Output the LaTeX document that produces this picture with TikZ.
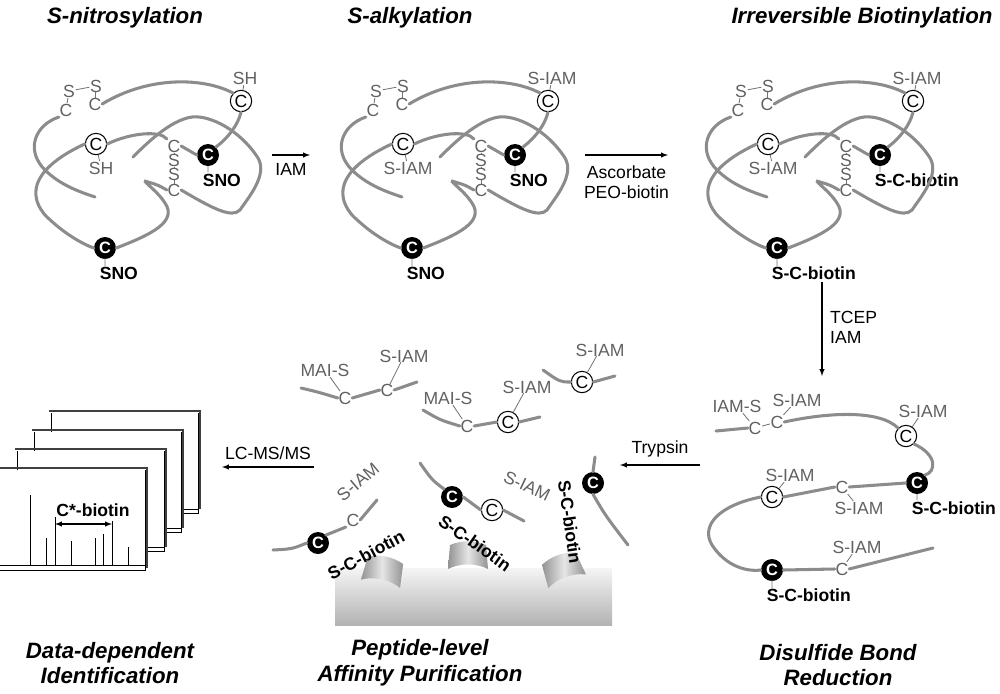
\documentclass[tikz,border=0pt]{standalone}
\usepackage{fontspec}
\setmainfont{Liberation Sans}
\usetikzlibrary{positioning,calc}

\tikzset{
  strand/.style={draw=black!45, line width=2.6pt, line cap=round},
  bond/.style={draw=black!55, line width=0.7pt, shorten >=-1pt, shorten <=-1pt},
  lab/.style={text=black!62, font=\fontsize{15}{15}\selectfont, inner sep=0.5pt},
  blab/.style={font=\fontsize{15}{15}\selectfont\bfseries, inner sep=0.5pt},
  cys/.style={circle, draw=black, line width=0.9pt, fill=white, minimum size=0.64cm, inner sep=0pt, font=\fontsize{15}{15}\selectfont},
  cysb/.style={circle, fill=black, text=white, minimum size=0.66cm, inner sep=0pt, font=\fontsize{14}{14}\selectfont\bfseries},
  title/.style={font=\fontsize{19}{22}\selectfont\bfseries\itshape, align=center},
  steplab/.style={font=\fontsize{15}{17}\selectfont, align=center},
  rxn/.style={->, >=latex, line width=1pt},
  shadow/.style={draw=black!75, line width=2.5pt},
  cup/.pic={
    \shade[left color=gray!85, right color=gray!85, middle color=gray!20]
      (-20,12) .. controls (-8,6) and (8,6) .. (20,12) -- (18,-12)
      .. controls (6,-17) and (-6,-17) .. (-18,-12) -- cycle;}
}

% folded protein of the top row
\newcommand\foldprot[5]{%
\begin{scope}[shift={(#1,0)}, name prefix=#5-]
  \node[lab] (s1) at (69,91) {S};
  \node[lab] (s2) at (96,86) {S};
  \node[lab] (c1) at (66,110) {C};
  \node[lab] (c2) at (95,104) {C};
  \draw[bond] (s1) -- (s2) (s1) -- (c1) (s2) -- (c2);
  \node[lab] (k1) at (174,146) {C};
  \node[lab] (k2) at (174,160) {S};
  \node[lab] (k3) at (174,174) {S};
  \node[lab] (k4) at (174,190) {C};
  \draw[bond] (k1) -- (k2) (k2) -- (k3) (k3) -- (k4);
  \node[cys] (ct) at (241,101) {C};
  \node[lab] (lt) at (245,78) {#2};
  \node[cys] (cl) at (96,144) {C};
  \node[lab] (ll) at (101,168) {#3};
  \node[cysb] (cr) at (208,155) {C};
  \node[blab, anchor=north west] (lr) at (202,173) {#4};
  \node[cysb] (cb) at (105,248) {C};
  \node[blab, anchor=north west] (lb) at (99,266) {#4};
  \draw[bond] (ct) -- (lt) (cl) -- (ll) (cr.south) -- ++(0,6) (cb.south) -- ++(0,6);
  % chain
  \draw[strand] (c2.east) .. controls (150,75) and (205,78) .. (ct.north west);
  \draw[strand] (ct.south) .. controls (238,125) and (228,138) .. (cr.north east);
  \draw[strand] (c1.south west) .. controls (35,125) and (25,150) .. (45,170)
    .. controls (60,185) and (80,192) .. (95,197);
  \draw[strand] (cl.east) .. controls (130,133) and (160,130) .. (k1.north west);
  \draw[strand] (cl.west) .. controls (50,160) and (20,185) .. (45,215)
    .. controls (65,235) and (85,245) .. (cb.west);
  \draw[strand] (cb.east) .. controls (150,235) and (178,222) .. (165,203)
    .. controls (157,190) and (138,178) .. (148,182) .. controls (158,185) .. (k4.west);
  \draw[strand] (k4.east) .. controls (215,210) and (232,218) .. (240,210)
    .. controls (248,198) and (268,175) .. (258,158)
    .. controls (240,130) and (210,115) .. (192,117)
    .. controls (170,120) and (145,145) .. (133,157);
  \draw[strand] (k1.east) -- (cr.west);
\end{scope}}

\begin{document}
\begin{tikzpicture}[x=0.03cm, y=-0.03cm]
  \useasboundingbox (0,0) rectangle (1000,693);

  % titles
  \node[title] (t1) at (125,18) {S-nitrosylation};
  \node[title] (t2) at (410,18) {S-alkylation};
  \node[title] (t3) at (862,18) {Irreversible Biotinylation};
  \node[title] (t4) at (110,663) {Data-dependent\\Identification};
  \node[title] (t5) at (420,663) {Peptide-level\\Affinity Purification};
  \node[title] (t6) at (838,665) {Disulfide Bond\\Reduction};

  % top row
  \foldprot{0}{SH}{SH}{SNO}{p1}
  \foldprot{307}{S-IAM}{S-IAM}{SNO}{p2}
  \foldprot{672}{S-IAM}{S-IAM}{S-C-biotin}{p3}

  % steps
  \coordinate (a1) at (272,155); \coordinate (a2) at (310,155);
  \draw[rxn] (a1) -- (a2);
  \node[steplab, below=4pt of $(a1)!0.5!(a2)$] (iam) {IAM};
  \coordinate (a3) at (585,155); \coordinate (a4) at (668,155);
  \draw[rxn] (a3) -- (a4);
  \node[steplab, below=6pt of $(a3)!0.5!(a4)$] (asc) {Ascorbate\\PEO-biotin};
  \coordinate (a5) at (822,282); \coordinate (a6) at (822,376);
  \draw[rxn] (a5) -- (a6);
  \node[steplab, anchor=west, align=left] (tcep) at (826,327) {TCEP\\IAM};
  \coordinate (a7) at (700,465); \coordinate (a8) at (620,465);
  \draw[rxn] (a7) -- (a8);
  \node[steplab, above=3pt of $(a7)!0.5!(a8)$] (tryp) {Trypsin};
  \coordinate (a9) at (314,467); \coordinate (a10) at (222,467);
  \draw[rxn] (a9) -- (a10);
  \node[steplab, above=3pt of $(a9)!0.5!(a10)$] (lcms) {LC-MS/MS};

  % reduced protein
  \node[lab] (iams) at (737,406) {IAM-S};
  \node[lab] (rs1) at (797,400) {S-IAM};
  \node[lab] (rc1) at (755,428) {C};
  \node[lab] (rc2) at (777,422) {C};
  \node[cys] (rc3) at (906,436) {C};
  \node[lab] (rl3) at (923,411) {S-IAM};
  \node[cysb] (rc4) at (917,483) {C};
  \node[blab, anchor=north west] (rl4) at (911,501) {S-C-biotin};
  \node[lab] (rc5) at (842,487) {C};
  \node[lab] (rl5) at (859,508) {S-IAM};
  \node[cys] (rc6) at (772,497) {C};
  \node[lab] (rl6) at (790,475) {S-IAM};
  \node[cysb] (rc7) at (772,570) {C};
  \node[blab, anchor=north west] (rl7) at (766,588) {S-C-biotin};
  \node[lab] (rc8) at (842,569) {C};
  \node[lab] (rl8) at (857,547) {S-IAM};
  \draw[bond] (iams) -- (rc1) (rs1) -- (rc2) (rc1) -- (rc2) (rc3) -- (rl3)
    (rc5) -- (rl5) (rc6) -- (rl6) (rc8) -- (rl8)
    (rc4.south) -- ++(0,6) (rc7.south) -- ++(0,6);
  \coordinate (re1) at (716,431); \coordinate (re2) at (933,548);
  \draw[strand] (re1) -- (rc1.west);
  \draw[strand] (rc2.east) .. controls (830,412) and (880,410) .. (rc3.north west);
  \draw[strand] (rc3.south east) .. controls (938,455) and (936,472) .. (rc4.north east);
  \draw[strand] (rc4.west) -- (rc5.east);
  \draw[strand] (rc5.west) -- (rc6.east);
  \draw[strand] (rc6.west) .. controls (720,505) and (700,525) .. (712,545)
    .. controls (725,565) and (745,572) .. (rc7.west);
  \draw[strand] (rc7.east) -- (rc8.west);
  \draw[strand] (rc8.east) -- (re2);

  % tryptic peptides
  \node[lab] (f1c1) at (345,398) {C};
  \node[lab] (f1c2) at (387,390) {C};
  \node[lab] (f1l1) at (325,370) {MAI-S};
  \node[lab] (f1l2) at (404,356) {S-IAM};
  \draw[bond] (f1c1) -- (f1l1) (f1c2) -- (f1l2);
  \coordinate (f1a) at (301,388); \coordinate (f1b) at (417,382);
  \draw[strand] (f1a) .. controls (318,392) .. (f1c1.west);
  \draw[strand] (f1c1.east) -- (f1c2.west);
  \draw[strand] (f1c2.east) -- (f1b);
  \node[lab] (f2c1) at (467,426) {C};
  \node[cys] (f2c2) at (508,422) {C};
  \node[lab] (f2l1) at (448,398) {MAI-S};
  \node[lab] (f2l2) at (527,387) {S-IAM};
  \draw[bond] (f2c1) -- (f2l1) (f2c2) -- (f2l2);
  \coordinate (f2a) at (423,410); \coordinate (f2b) at (540,417);
  \draw[strand] (f2a) .. controls (440,420) .. (f2c1.west);
  \draw[strand] (f2c1.east) -- (f2c2.west);
  \draw[strand] (f2c2.east) -- (f2b);
  \node[cys] (f3c) at (582,382) {C};
  \node[lab] (f3l) at (600,350) {S-IAM};
  \draw[bond] (f3c) -- (f3l);
  \coordinate (f3a) at (543,370); \coordinate (f3b) at (615,376);
  \draw[strand] (f3a) .. controls (560,382) .. (f3c.west);
  \draw[strand] (f3c.east) -- (f3b);

  % beads
  \shade[top color=gray!8, bottom color=gray!60] (335,568) rectangle (612,625);
  \pic[rotate=-12] at (383,572) {cup};
  \pic at (468,557) {cup};
  \pic[rotate=20] at (563,570) {cup};
  \node[cysb] (b1c) at (318,543) {C};
  \node[lab] (b1k) at (353,520) {C};
  \node[lab, rotate=40] (b1l) at (358,482) {S-IAM};
  \node[blab, rotate=28] (b1b) at (366,555) {S-C-biotin};
  \coordinate (b1a) at (273,550); \coordinate (b1e) at (377,500);
  \draw[strand] (b1a) .. controls (292,549) .. (b1c.west);
  \draw[strand] (b1c.north east) -- (b1k.south west);
  \draw[strand] (b1k.east) -- (b1e);
  \node[cysb] (b2c) at (452,497) {C};
  \node[cys] (b2o) at (492,510) {C};
  \node[lab, rotate=-25] (b2l) at (527,486) {S-IAM};
  \node[blab, rotate=-35] (b2b) at (475,543) {S-C-biotin};
  \coordinate (b2a) at (420,463); \coordinate (b2e) at (524,521);
  \draw[strand] (b2a) .. controls (432,480) .. (b2c.north west);
  \draw[strand] (b2c.east) -- (b2o.west);
  \draw[strand] (b2o.east) -- (b2e);
  \node[cysb] (b3c) at (593,483) {C};
  \node[blab, rotate=-82] (b3b) at (570,522) {S-C-biotin};
  \coordinate (b3a) at (595,457); \coordinate (b3e) at (628,545);
  \draw[strand] (b3a) -- (b3c.north);
  \draw[strand] (b3c.south) .. controls (605,515) .. (b3e);

  % stacked spectra
  \foreach \k in {3,2,1} {
    \fill[white] ({17*\k},{470-19*\k}) rectangle ({147+17*\k},{570-19*\k});
    \draw[line width=0.8pt] ({17*\k},{470-19*\k}) |- ({147+17*\k},{570-19*\k}) -- ({147+17*\k},{470-19*\k});
    \draw[line width=0.8pt] ({17*\k+3},{566-19*\k}) -- ({147+17*\k},{566-19*\k});
    \draw[shadow] ({17*\k-2},{468-19*\k}) -- ({149+17*\k},{468-19*\k}) -- ({149+17*\k},{566-19*\k});
  }
  \fill[white] (0,470) rectangle (145,570);
  \draw[line width=0.8pt] (0,565) -- (145,565) (0,570) -- (145,570) -- (145,470);
  \draw[shadow] (0,468) -- (147,468) -- (147,568);
  \foreach \px/\py in {30/495, 46/538, 55/517, 71/541, 95/538, 103/534, 112/521, 128/547}
    \draw[line width=0.8pt] (\px,565) -- (\px,\py);
  \coordinate (pk1) at (55,524); \coordinate (pk2) at (112,524);
  \draw[<->, >=latex, line width=1pt] (pk1) -- (pk2);
  \node[blab] (cstar) at (93,510) {C*-biotin};
\end{tikzpicture}
\end{document}
